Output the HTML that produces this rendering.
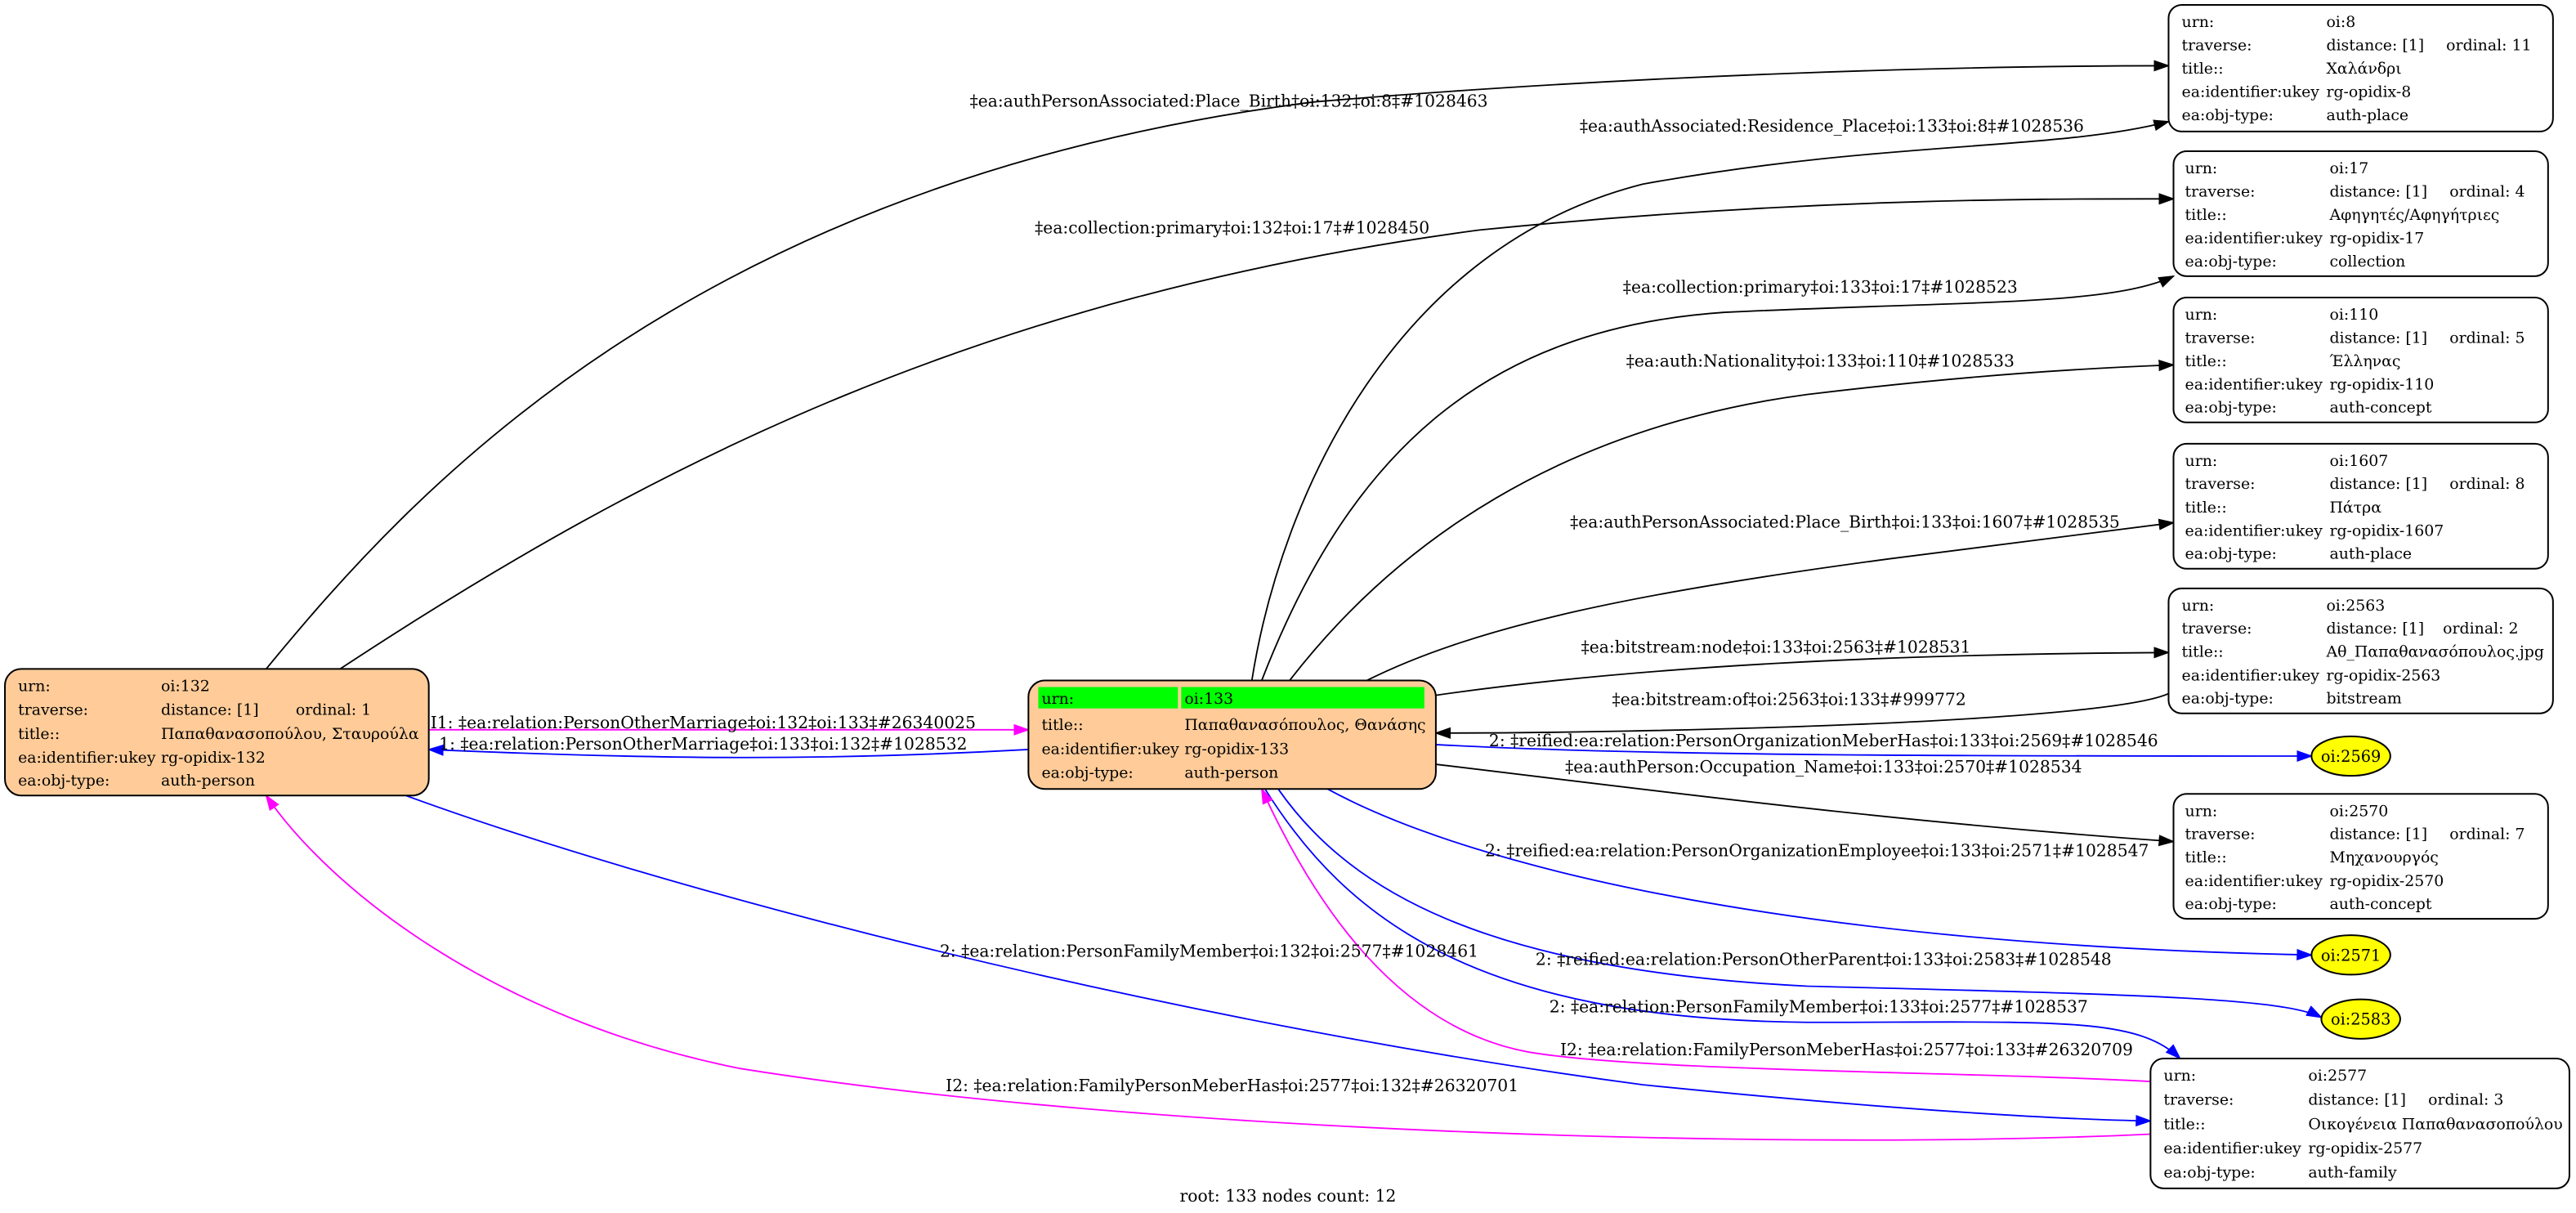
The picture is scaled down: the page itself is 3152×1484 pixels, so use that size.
<!DOCTYPE html>
<html><head><meta charset="utf-8"><style>
html,body{margin:0;padding:0;background:#fff;}
svg{display:block;}
text{font-family:"DejaVu Serif","Liberation Serif",serif;font-size:9.4px;fill:#000;}
.l{text-anchor:middle;font-size:10.1px;}
.e{text-anchor:middle;font-size:9.6px;}
</style></head><body>
<svg width="3152" height="1484" viewBox="0 0 1568 738" preserveAspectRatio="none" xmlns="http://www.w3.org/2000/svg">
<defs>
<marker id="ak" markerWidth="10" markerHeight="8" refX="9" refY="4" orient="auto" markerUnits="userSpaceOnUse"><path d="M0,0.5 L10,4 L0,7.5 Z" fill="#000"/></marker>
<marker id="ab" markerWidth="10" markerHeight="8" refX="9" refY="4" orient="auto" markerUnits="userSpaceOnUse"><path d="M0,0.5 L10,4 L0,7.5 Z" fill="#00f"/></marker>
<marker id="am" markerWidth="10" markerHeight="8" refX="9" refY="4" orient="auto" markerUnits="userSpaceOnUse"><path d="M0,0.5 L10,4 L0,7.5 Z" fill="#f0f"/></marker>
</defs>
<g fill="none" stroke-width="0.9">
<path stroke="#000" marker-end="url(#ak)" d="M162,407 C250,300 420,110 800,62 C1000,45 1200,40 1320,40"/>
<path stroke="#000" marker-end="url(#ak)" d="M207,407 C400,280 600,180 900,140 C1100,120 1250,121 1323,121"/>
<path stroke="#000" marker-end="url(#ak)" d="M762,414 C780,300 850,150 1000,112 C1150,85 1250,92 1320,74"/>
<path stroke="#000" marker-end="url(#ak)" d="M768,414 C820,280 900,200 1050,190 C1200,183 1285,186 1323,168"/>
<path stroke="#000" marker-end="url(#ak)" d="M785,414 C850,330 950,260 1100,240 C1200,228 1270,224 1323,222"/>
<path stroke="#000" marker-end="url(#ak)" d="M832,414 C900,380 1000,360 1150,340 C1230,330 1290,322 1323,318"/>
<path stroke="#000" marker-end="url(#ak)" d="M874,423 C1000,405 1150,398 1320,397"/>
<path stroke="#000" marker-end="url(#ak)" d="M1320,422 C1280,440 1000,446 874,446"/>
<path stroke="#00f" marker-end="url(#ab)" d="M874,453 C1000,460 1200,460 1407,460"/>
<path stroke="#000" marker-end="url(#ak)" d="M874,465 C1000,480 1150,500 1323,512"/>
<path stroke="#00f" marker-end="url(#ab)" d="M808,480 C900,530 1100,575 1407,581"/>
<path stroke="#00f" marker-end="url(#ab)" d="M778,480 C820,540 900,590 1100,600 C1300,605 1390,607 1413,619"/>
<path stroke="#00f" marker-end="url(#ab)" d="M770,480 C820,560 900,620 1100,622 C1250,622 1300,618 1327,644"/>
<path stroke="#f0f" marker-end="url(#am)" d="M1309,658 C1200,652 1000,652 930,640 C850,625 800,550 768,480"/>
<path stroke="#00f" marker-end="url(#ab)" d="M247,484 C400,540 700,620 1000,660 C1150,675 1250,681 1309,682"/>
<path stroke="#f0f" marker-end="url(#am)" d="M1309,690 C1100,700 700,690 450,650 C300,620 200,540 162,484"/>
<path stroke="#f0f" marker-end="url(#am)" d="M261,444 L626,444"/>
<path stroke="#00f" marker-end="url(#ab)" d="M626,456 C500,463 400,462 261,456"/>
</g>
<text class="l" x="748" y="65">‡ea:authPersonAssociated:Place_Birth‡oi:132‡oi:8‡#1028463</text>
<text class="l" x="750" y="142">‡ea:collection:primary‡oi:132‡oi:17‡#1028450</text>
<text class="l" x="1115" y="80">‡ea:authAssociated:Residence_Place‡oi:133‡oi:8‡#1028536</text>
<text class="l" x="1108" y="178">‡ea:collection:primary‡oi:133‡oi:17‡#1028523</text>
<text class="l" x="1108" y="223">‡ea:auth:Nationality‡oi:133‡oi:110‡#1028533</text>
<text class="l" x="1123" y="321">‡ea:authPersonAssociated:Place_Birth‡oi:133‡oi:1607‡#1028535</text>
<text class="l" x="1081" y="397">‡ea:bitstream:node‡oi:133‡oi:2563‡#1028531</text>
<text class="l" x="1089" y="429">‡ea:bitstream:of‡oi:2563‡oi:133‡#999772</text>
<text class="l" x="1110" y="454">2: ‡reified:ea:relation:PersonOrganizationMeberHas‡oi:133‡oi:2569‡#1028546</text>
<text class="l" x="1110" y="470">‡ea:authPerson:Occupation_Name‡oi:133‡oi:2570‡#1028534</text>
<text class="l" x="1106" y="521">2: ‡reified:ea:relation:PersonOrganizationEmployee‡oi:133‡oi:2571‡#1028547</text>
<text class="l" x="1110" y="587">2: ‡reified:ea:relation:PersonOtherParent‡oi:133‡oi:2583‡#1028548</text>
<text class="l" x="1107" y="616">2: ‡ea:relation:PersonFamilyMember‡oi:133‡oi:2577‡#1028537</text>
<text class="l" x="1124" y="642">I2: ‡ea:relation:FamilyPersonMeberHas‡oi:2577‡oi:133‡#26320709</text>
<text class="l" x="736" y="582">2: ‡ea:relation:PersonFamilyMember‡oi:132‡oi:2577‡#1028461</text>
<text class="l" x="750" y="664">I2: ‡ea:relation:FamilyPersonMeberHas‡oi:2577‡oi:132‡#26320701</text>
<text class="l" x="428" y="443">I1: ‡ea:relation:PersonOtherMarriage‡oi:132‡oi:133‡#26340025</text>
<text class="l" x="428" y="456">1: ‡ea:relation:PersonOtherMarriage‡oi:133‡oi:132‡#1028532</text>
<text class="l" x="784" y="731">root: 133 nodes count: 12</text>

<rect x="3" y="407" width="258" height="77" rx="10" fill="#ffcc99" stroke="#000"/>
<text x="11" y="420.5">urn:</text><text x="98" y="420.5">oi:132</text>
<text x="11" y="435">traverse:</text><text x="98" y="435">distance: [1]</text><text x="180" y="435">ordinal: 1</text>
<text x="11" y="449.5">title::</text><text x="98" y="449.5">Παπαθανασοπούλου, Σταυρούλα</text>
<text x="11" y="464">ea:identifier:ukey</text><text x="98" y="464">rg-opidix-132</text>
<text x="11" y="478">ea:obj-type:</text><text x="98" y="478">auth-person</text>

<rect x="626" y="414" width="248" height="66" rx="10" fill="#ffcc99" stroke="#000"/>
<rect x="632" y="418" width="85" height="13" fill="#00ff00"/>
<rect x="719" y="418" width="148" height="13" fill="#00ff00"/>
<text x="634" y="428.2">urn:</text><text x="721" y="428.2">oi:133</text>
<text x="634" y="444">title::</text><text x="721" y="444">Παπαθανασόπουλος, Θανάσης</text>
<text x="634" y="458.7">ea:identifier:ukey</text><text x="721" y="458.7">rg-opidix-133</text>
<text x="634" y="473.3">ea:obj-type:</text><text x="721" y="473.3">auth-person</text>

<g>
<rect x="1320" y="3" width="234" height="77" rx="8" fill="#fff" stroke="#000"/>
<text x="1328" y="16.5">urn:</text><text x="1416" y="16.5">oi:8</text>
<text x="1328" y="30.5">traverse:</text><text x="1416" y="30.5">distance: [1]</text><text x="1489" y="30.5">ordinal: 11</text>
<text x="1328" y="44.7">title::</text><text x="1416" y="44.7">Χαλάνδρι</text>
<text x="1328" y="59">ea:identifier:ukey</text><text x="1416" y="59">rg-opidix-8</text>
<text x="1328" y="73">ea:obj-type:</text><text x="1416" y="73">auth-place</text>
</g>
<g>
<rect x="1323" y="92" width="228" height="76" rx="8" fill="#fff" stroke="#000"/>
<text x="1330" y="105.5">urn:</text><text x="1418" y="105.5">oi:17</text>
<text x="1330" y="119.5">traverse:</text><text x="1418" y="119.5">distance: [1]</text><text x="1491" y="119.5">ordinal: 4</text>
<text x="1330" y="133.7">title::</text><text x="1418" y="133.7">Αφηγητές/Αφηγήτριες</text>
<text x="1330" y="148">ea:identifier:ukey</text><text x="1418" y="148">rg-opidix-17</text>
<text x="1330" y="162">ea:obj-type:</text><text x="1418" y="162">collection</text>
</g>
<g>
<rect x="1323" y="181" width="228" height="76" rx="8" fill="#fff" stroke="#000"/>
<text x="1330" y="194.5">urn:</text><text x="1418" y="194.5">oi:110</text>
<text x="1330" y="208.5">traverse:</text><text x="1418" y="208.5">distance: [1]</text><text x="1491" y="208.5">ordinal: 5</text>
<text x="1330" y="222.7">title::</text><text x="1418" y="222.7">Έλληνας</text>
<text x="1330" y="237">ea:identifier:ukey</text><text x="1418" y="237">rg-opidix-110</text>
<text x="1330" y="251">ea:obj-type:</text><text x="1418" y="251">auth-concept</text>
</g>
<g>
<rect x="1323" y="270" width="228" height="76" rx="8" fill="#fff" stroke="#000"/>
<text x="1330" y="283.5">urn:</text><text x="1418" y="283.5">oi:1607</text>
<text x="1330" y="297.5">traverse:</text><text x="1418" y="297.5">distance: [1]</text><text x="1491" y="297.5">ordinal: 8</text>
<text x="1330" y="311.7">title::</text><text x="1418" y="311.7">Πάτρα</text>
<text x="1330" y="326">ea:identifier:ukey</text><text x="1418" y="326">rg-opidix-1607</text>
<text x="1330" y="340">ea:obj-type:</text><text x="1418" y="340">auth-place</text>
</g>
<g>
<rect x="1320" y="358" width="234" height="76" rx="8" fill="#fff" stroke="#000"/>
<text x="1328" y="371.5">urn:</text><text x="1416" y="371.5">oi:2563</text>
<text x="1328" y="385.5">traverse:</text><text x="1416" y="385.5">distance: [1]</text><text x="1487" y="385.5">ordinal: 2</text>
<text x="1328" y="399.7">title::</text><text x="1416" y="399.7">Αθ_Παπαθανασόπουλος.jpg</text>
<text x="1328" y="414">ea:identifier:ukey</text><text x="1416" y="414">rg-opidix-2563</text>
<text x="1328" y="428">ea:obj-type:</text><text x="1416" y="428">bitstream</text>
</g>
<g>
<rect x="1323" y="483" width="228" height="76" rx="8" fill="#fff" stroke="#000"/>
<text x="1330" y="496.5">urn:</text><text x="1418" y="496.5">oi:2570</text>
<text x="1330" y="510.5">traverse:</text><text x="1418" y="510.5">distance: [1]</text><text x="1491" y="510.5">ordinal: 7</text>
<text x="1330" y="524.7">title::</text><text x="1418" y="524.7">Μηχανουργός</text>
<text x="1330" y="539">ea:identifier:ukey</text><text x="1418" y="539">rg-opidix-2570</text>
<text x="1330" y="553">ea:obj-type:</text><text x="1418" y="553">auth-concept</text>
</g>
<g>
<rect x="1309" y="644" width="255" height="79" rx="8" fill="#fff" stroke="#000"/>
<text x="1317" y="657.5">urn:</text><text x="1405" y="657.5">oi:2577</text>
<text x="1317" y="672.2">traverse:</text><text x="1405" y="672.2">distance: [1]</text><text x="1478" y="672.2">ordinal: 3</text>
<text x="1317" y="687">title::</text><text x="1405" y="687">Οικογένεια Παπαθανασοπούλου</text>
<text x="1317" y="701.7">ea:identifier:ukey</text><text x="1405" y="701.7">rg-opidix-2577</text>
<text x="1317" y="716.4">ea:obj-type:</text><text x="1405" y="716.4">auth-family</text>
</g>
<ellipse cx="1431" cy="460" rx="24" ry="12" fill="#ffff00" stroke="#000"/>
<text class="e" x="1431" y="463.5">oi:2569</text>
<ellipse cx="1431" cy="581" rx="24" ry="12" fill="#ffff00" stroke="#000"/>
<text class="e" x="1431" y="584.5">oi:2571</text>
<ellipse cx="1437" cy="620" rx="24" ry="12" fill="#ffff00" stroke="#000"/>
<text class="e" x="1437" y="623.5">oi:2583</text>
</svg>
</body></html>
